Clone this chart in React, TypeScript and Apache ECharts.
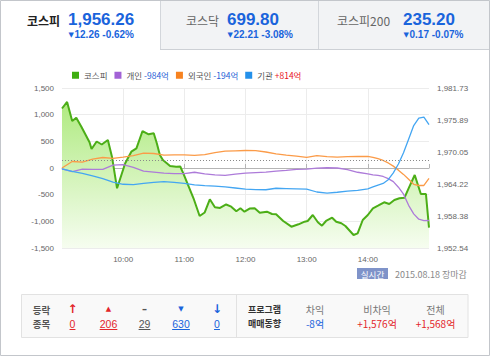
import React, { useEffect, useRef } from 'react';
import * as echarts from 'echarts';

// ---------- data ----------
const indexNames = ['코스피', '코스닥', '코스피200'];
const indexValues = ['1,956.26', '699.80', '235.20'];
const indexChanges = ['12.26 -0.62%', '22.21 -3.08%', '0.17 -0.07%'];

const prevClose = 1968.52;

const kospiTimes = [
  '09:00', '09:05', '09:10', '09:14', '09:19', '09:27', '09:29', '09:34', '09:39', '09:45',
  '09:49', '09:54', '10:02', '10:08', '10:13', '10:19', '10:25', '10:30', '10:33', '10:36',
  '10:39', '10:46', '10:52', '10:56', '10:59', '11:09', '11:15', '11:20', '11:25', '11:30',
  '11:35', '11:41', '11:46', '11:51', '11:55', '11:59', '12:04', '12:09', '12:14', '12:21',
  '12:26', '12:30', '12:37', '12:45', '12:52', '12:58', '13:01', '13:06', '13:11', '13:15',
  '13:19', '13:25', '13:29', '13:34', '13:38', '13:46', '13:50', '13:55', '14:00', '14:05',
  '14:10', '14:16', '14:21', '14:26', '14:31', '14:36', '14:40', '14:46', '14:52', '14:57',
  '15:00',
];
const kospiValues = [
  1977.99, 1979.18, 1975.71, 1976.31, 1974.67, 1971.82, 1970.6, 1971.97, 1971.42, 1972.24,
  1969.2, 1963.43, 1967.99, 1970.11, 1970.73, 1973.88, 1973.28, 1973.47, 1971.64, 1969.51,
  1968.59, 1967.5, 1967.37, 1967.41, 1966.17, 1961.61, 1958.38, 1959.02, 1961.42, 1959.98,
  1959.84, 1960.48, 1960.08, 1959.24, 1959.78, 1959.16, 1959.73, 1959.78, 1958.98, 1959.16,
  1958.74, 1958.69, 1957.47, 1956.43, 1956.86, 1957.34, 1957.47, 1958.56, 1957.23, 1956.61,
  1957.47, 1958.07, 1957.34, 1957.05, 1956.55, 1954.91, 1955.22, 1957.65, 1958.56, 1959.78,
  1960.26, 1960.88, 1960.57, 1961.3, 1961.61, 1961.72, 1963.43, 1965.86, 1962.39, 1962.39,
  1956.26,
];

const flowTimes = [
  '09:00', '09:10', '09:20', '09:30', '09:40', '09:50', '10:00', '10:10', '10:20', '10:30',
  '10:40', '10:50', '11:00', '11:10', '11:20', '11:30', '11:40', '11:50', '12:00', '12:10',
  '12:20', '12:30', '12:40', '12:50', '13:00', '13:10', '13:20', '13:30', '13:40', '13:50',
  '14:00', '14:05', '14:10', '14:15', '14:20', '14:25', '14:30', '14:35', '14:40', '14:45',
  '14:50', '14:55', '15:00',
];
const individualValues = [
  -15, -70, -20, -25, -25, 55, 65, 10, -60, -77,
  -96, -105, -105, -80, -110, -130, -140, -115, -96, -85,
  -77, -60, -45, -25, -20, -2, 5, 0, -30, -80,
  -110, -127, -140, -159, -200, -255, -360, -490, -700, -860,
  -960, -985, -984,
];
const foreignValues = [
  0, 122, 110, 165, 197, 180, 205, 232, 278, 272,
  240, 245, 245, 235, 250, 290, 315, 322, 328, 325,
  300, 265, 240, 222, 200, 232, 214, 205, 214, 216,
  216, 200, 175, 141, 95, 35, -40, -120, -210, -305,
  -328, -328, -194,
];
const institutionValues = [
  -15, -65, -100, -148, -200, -265, -305, -310, -290, -270,
  -255, -270, -290, -315, -330, -340, -355, -375, -396, -405,
  -408, -380, -385, -390, -395, -450, -470, -455, -435, -420,
  -390, -355, -320, -290, -220, -90, 75, 285, 540, 795,
  935, 954, 814,
];

const seriesNames = ['코스피', '개인', '외국인', '기관'];
const legendAmounts = ['', '-984억', '-194억', '+814억'];

const breadthLabels = ['등락', '종목'];
const breadthSymbols = ['↑', '▲', '–', '▼', '↓'];
const breadthCounts = ['0', '206', '29', '630', '0'];

const programTitle = ['프로그램', '매매동향'];
const programLabels = ['차익', '비차익', '전체'];
const programValues = ['-8억', '+1,576억', '+1,568억'];

const timeLabels = ['10:00', '11:00', '12:00', '13:00', '14:00'];

// ---------- helpers / styles ----------
const toMin = (t: string) => {
  const [h, m] = t.split(':').map(Number);
  return (h - 9) * 60 + m;
};
const KR = '"Noto Sans CJK KR", "Liberation Sans", sans-serif';
const NUM = '"Liberation Sans", Arial, sans-serif';
const BLUE = '#1a64dc';
const RED = '#e3262b';
const GREY = '#555';

const lineColors = ['#4cae17', '#ad7bd9', '#fb9b48', '#44a6f2'];
const iconColors = ['#3fae10', '#a262d6', '#f7821f', '#2490ea'];

function buildGraphics() {
  const g: any[] = [];
  // tab backgrounds
  g.push({ type: 'rect', shape: { x: 160, y: 0, width: 330, height: 49 }, style: { fill: '#f2f3f5' }, silent: true });
  g.push({ type: 'line', shape: { x1: 160.5, y1: 0, x2: 160.5, y2: 49 }, style: { stroke: '#d3d6db', lineWidth: 1 } });
  g.push({ type: 'line', shape: { x1: 318.5, y1: 0, x2: 318.5, y2: 49 }, style: { stroke: '#d3d6db', lineWidth: 1 } });
  g.push({ type: 'line', shape: { x1: 160, y1: 49.5, x2: 490, y2: 49.5 }, style: { stroke: '#cdd0d5', lineWidth: 1 } });
  // outer border
  g.push({ type: 'rect', shape: { x: 0.5, y: 0.5, width: 489, height: 355 }, style: { fill: 'none', stroke: '#c3c6cb', lineWidth: 1 }, silent: true });

  const nameX = [27, 186, 337];
  const valueX = [68, 227, 403];
  indexNames.forEach((n, i) => {
    g.push({
      type: 'text', x: nameX[i], y: 20,
      style: { text: n, fill: i === 0 ? '#222' : '#666', font: `${i === 0 ? 'bold ' : ''}12px ${KR}`, textAlign: 'left', textVerticalAlign: 'middle' },
    });
    g.push({
      type: 'text', x: valueX[i], y: 19.5,
      style: { text: indexValues[i], fill: BLUE, font: `bold 17px ${NUM}`, textAlign: 'left', textVerticalAlign: 'middle' },
    });
    g.push({
      type: 'text', x: valueX[i] + 0.5, y: 34.5,
      style: { text: '▼', fill: BLUE, font: `7px "DejaVu Sans"`, textAlign: 'left', textVerticalAlign: 'middle' },
    });
    g.push({
      type: 'text', x: valueX[i] + 6.5, y: 34.5,
      style: { text: indexChanges[i], fill: BLUE, font: `bold 10px ${NUM}`, textAlign: 'left', textVerticalAlign: 'middle' },
    });
  });

  // real-time badge + date
  g.push({ type: 'rect', shape: { x: 357, y: 268, width: 31, height: 11 }, style: { fill: '#7f93c9' } });
  g.push({ type: 'text', x: 372.5, y: 273.5, style: { text: '실시간', fill: '#fff', font: `8.5px ${KR}`, textAlign: 'center', textVerticalAlign: 'middle' } });
  g.push({ type: 'text', x: 395, y: 274, style: { text: '2015.08.18 장마감', fill: '#888', font: `9px ${KR}`, textAlign: 'left', textVerticalAlign: 'middle' } });

  // bottom table
  g.push({ type: 'rect', shape: { x: 21.5, y: 294.5, width: 446.5, height: 43 }, style: { fill: '#f9f9f9', stroke: '#e2e2e2', lineWidth: 1 } });
  g.push({ type: 'line', shape: { x1: 236.5, y1: 295, x2: 236.5, y2: 337 }, style: { stroke: '#e2e2e2', lineWidth: 1 } });
  const row1 = 309.5;
  const row2 = 323.5;
  breadthLabels.forEach((t, i) => {
    g.push({ type: 'text', x: 41.5, y: i === 0 ? row1 : row2, style: { text: t, fill: GREY, font: `bold 9.5px ${KR}`, textAlign: 'center', textVerticalAlign: 'middle' } });
  });
  const colX = [72.5, 108.5, 144.5, 181, 217];
  const colColors = [RED, RED, '#555', BLUE, BLUE];
  const symSize = [12, 7, 10, 7, 12];
  breadthSymbols.forEach((s, i) => {
    g.push({ type: 'text', x: colX[i], y: row1 - 0.5, style: { text: s, fill: colColors[i], font: `bold ${symSize[i]}px "DejaVu Sans"`, textAlign: 'center', textVerticalAlign: 'middle' } });
    const c = breadthCounts[i];
    g.push({ type: 'text', x: colX[i], y: row2, style: { text: c, fill: colColors[i], font: `10.5px ${NUM}`, textAlign: 'center', textVerticalAlign: 'middle' } });
    const w = c.length * 5.9;
    g.push({ type: 'line', shape: { x1: colX[i] - w / 2, y1: row2 + 6, x2: colX[i] + w / 2, y2: row2 + 6 }, style: { stroke: colColors[i], lineWidth: 1 } });
  });
  programTitle.forEach((t, i) => {
    g.push({ type: 'text', x: 248, y: i === 0 ? row1 : row2, style: { text: t, fill: '#333', font: `bold 9px ${KR}`, textAlign: 'left', textVerticalAlign: 'middle' } });
  });
  const progX = [315, 377, 435.5];
  const progColors = [BLUE, RED, RED];
  programLabels.forEach((t, i) => {
    g.push({ type: 'text', x: progX[i], y: row1, style: { text: t, fill: '#777', font: `10px ${KR}`, textAlign: 'center', textVerticalAlign: 'middle' } });
    g.push({ type: 'text', x: progX[i], y: row2, style: { text: programValues[i], fill: progColors[i], font: `10px ${KR}`, textAlign: 'center', textVerticalAlign: 'middle' } });
  });
  return g;
}

export default function App() {
  const ref = useRef<HTMLDivElement>(null);
  useEffect(() => {
    if (!ref.current) return;
    const chart = echarts.init(ref.current, null, { renderer: 'svg' });
    const flows = [individualValues, foreignValues, institutionValues];
    const option: any = {
      animation: false,
      backgroundColor: '#fff',
      textStyle: { fontFamily: KR },
      grid: { left: 62, right: 61, top: 88, bottom: 108 },
      legend: {
        left: 67,
        top: 66,
        icon: 'rect',
        itemWidth: 7,
        itemHeight: 7,
        itemGap: 7,
        selectedMode: false,
        data: seriesNames.map((n, i) => ({ name: n, itemStyle: { color: iconColors[i] } })),
        formatter: (name: string) => {
          const i = seriesNames.indexOf(name);
          const amt = legendAmounts[i];
          if (!amt) return `{n|${name}}`;
          return `{n|${name}} {${amt.startsWith('-') ? 'neg' : 'pos'}|${amt}}`;
        },
        textStyle: {
          fontSize: 8.5,
          color: '#555',
          fontFamily: KR,
          rich: {
            n: { fontSize: 8.5, color: '#555', fontFamily: KR },
            neg: { fontSize: 8.5, color: '#1f5fd6', fontFamily: KR },
            pos: { fontSize: 8.5, color: '#e8141b', fontFamily: KR },
          },
        },
      },
      xAxis: {
        type: 'value',
        min: 0,
        max: 360,
        interval: 60,
        axisLine: { lineStyle: { color: '#b5b5b5' } },
        axisTick: { show: true, inside: true, length: 4, lineStyle: { color: '#b5b5b5' } },
        axisLabel: {
          fontSize: 8,
          color: '#666',
          fontFamily: NUM,
          margin: 7,
          formatter: (v: number) => {
            const idx = v / 60 - 1;
            return idx >= 0 && idx < timeLabels.length ? timeLabels[idx] : '';
          },
        },
        splitLine: { show: true, showMinLine: false, showMaxLine: false, lineStyle: { color: '#ececec' } },
      },
      yAxis: [
        {
          type: 'value',
          min: -1500,
          max: 1500,
          interval: 500,
          axisLine: { show: false },
          axisTick: { show: false },
          axisLabel: {
            fontSize: 8,
            color: '#666',
            fontFamily: NUM,
            margin: 8,
            formatter: (v: number) => v.toLocaleString('en-US'),
          },
          splitLine: { show: true, lineStyle: { color: '#ececec' } },
        },
        {
          type: 'value',
          position: 'right',
          min: 1952.54,
          max: 1981.73,
          interval: 5.838,
          axisLine: { show: false },
          axisTick: { show: false },
          splitLine: { show: false },
          axisLabel: {
            fontSize: 8,
            color: '#666',
            fontFamily: NUM,
            margin: 8,
            formatter: (v: number) =>
              v.toLocaleString('en-US', { minimumFractionDigits: 2, maximumFractionDigits: 2 }),
          },
        },
      ],
      series: [
        {
          name: seriesNames[0],
          type: 'line',
          yAxisIndex: 1,
          symbol: 'none',
          z: 2,
          data: kospiTimes.map((t, i) => [toMin(t), kospiValues[i]]),
          lineStyle: { color: lineColors[0], width: 2 },
          itemStyle: { color: lineColors[0] },
          areaStyle: {
            origin: 'start',
            opacity: 1,
            color: new echarts.graphic.LinearGradient(0, 0, 0, 1, [
              { offset: 0, color: '#afea80' },
              { offset: 1, color: '#f6fdf0' },
            ]),
          },
          markLine: {
            silent: true,
            symbol: ['none', 'none'],
            label: { show: false },
            lineStyle: { color: '#8a8a8a', type: [1, 2], width: 1 },
            data: [{ yAxis: prevClose }],
          },
        },
        ...flows.map((vals, k) => ({
          name: seriesNames[k + 1],
          type: 'line',
          yAxisIndex: 0,
          symbol: 'none',
          z: 3,
          data: flowTimes.map((t, i) => [toMin(t), vals[i]]),
          lineStyle: { color: lineColors[k + 1], width: 1.3 },
          itemStyle: { color: lineColors[k + 1] },
        })),
      ],
      graphic: buildGraphics(),
    };
    chart.setOption(option);
    return () => chart.dispose();
  }, []);
  return (
    <div
      ref={ref}
      style={{ position: 'fixed', left: 0, top: 0, width: 490, height: 356, background: '#fff' }}
    />
  );
}
